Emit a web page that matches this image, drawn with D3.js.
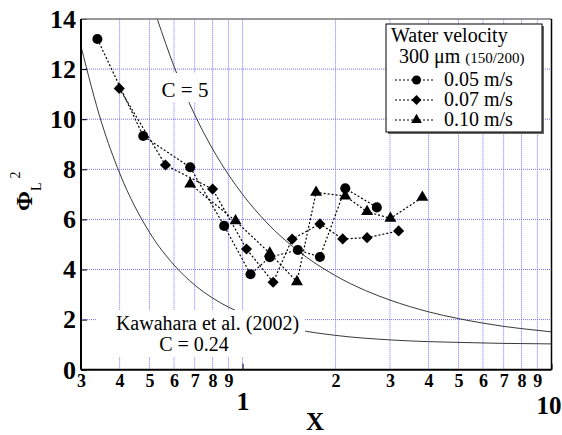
<!DOCTYPE html>
<html>
<head>
<meta charset="utf-8">
<script src="https://cdn.jsdelivr.net/npm/d3@7"></script>
<style>
  body { margin: 0; background: #fff; }
  svg, svg text { font-family: "Liberation Serif", "Tinos", "DejaVu Serif", serif; }
</style>
</head>
<body>
<svg id="chart" width="562" height="435"></svg>
<script>
// series
const xCircle = [0.339, 0.477, 0.677, 0.872, 1.061, 1.225, 1.51, 1.78, 2.15, 2.72]
const yCircle = [13.2, 9.33, 8.08, 5.74, 3.81, 4.49, 4.78, 4.5, 7.24, 6.48]
const xDiamond = [0.399, 0.563, 0.80, 1.03, 1.256, 1.447, 1.78, 2.11, 2.53, 3.2]
const yDiamond = [11.23, 8.17, 7.21, 4.82, 3.49, 5.21, 5.82, 5.22, 5.27, 5.54]
const xTriangle = [0.677, 0.949, 1.225, 1.50, 1.73, 2.15, 2.53, 3.01, 3.82]
const yTriangle = [7.41, 5.94, 4.65, 3.51, 7.08, 6.93, 6.31, 6.04, 6.88]

// reference curves (C = 5 and C = 0.24)
const xCurve5 = [0.53, 0.6, 0.7, 0.8, 0.9, 1, 1.2, 1.5, 2, 2.5, 3, 4, 5, 6, 7, 8, 10]
const yCurve5 = [13.99, 12.11, 10.18, 8.81, 7.79, 7, 5.86, 4.78, 3.75, 3.16, 2.78, 2.31, 2.04, 1.86, 1.73, 1.64, 1.51]
const xCurve024 = [0.3, 0.35, 0.4, 0.5, 0.6, 0.7, 0.8, 0.9, 1, 1.2, 1.5, 2, 3, 4, 5, 7, 10]
const yCurve024 = [12.91, 9.85, 7.85, 5.48, 4.18, 3.38, 2.86, 2.50, 2.24, 1.89, 1.60, 1.37, 1.19, 1.12, 1.09, 1.05, 1.03]

// ticks
const yTicks = [0, 2, 4, 6, 8, 10, 12, 14]
const xMinorTicks = [0.3, 0.4, 0.5, 0.6, 0.7, 0.8, 0.9, 2, 3, 4, 5, 6, 7, 8, 9]
const xMajorTicks = [1, 10]
const xGrid = [0.4, 0.5, 0.6, 0.7, 0.8, 0.9, 1, 2, 3, 4, 5, 6, 7, 8, 9]
const yGrid = [2, 4, 6, 8, 10, 12]

const legendLabels = ["0.05 m/s", "0.07 m/s", "0.10 m/s"]

const serif = "'Liberation Serif', Tinos, 'DejaVu Serif', serif"
const margin = { top: 19, bottom: 65.3, left: 81, right: 10.5 }
const svg = d3.select("#chart")
const width = 562, height = 435

const x = d3.scaleLog().domain([0.3, 10]).range([margin.left, width - margin.right])
const y = d3.scaleLinear().domain([0, 14]).range([height - margin.bottom, margin.top])

const gridColor = "#7272ff"

/**
 * Grid
 */
const g_grid = svg.append("g")
g_grid.selectAll(".vgrid").data(xGrid).enter().append("line")
  .attr("x1", d => x(d)).attr("x2", d => x(d))
  .attr("y1", y(0)).attr("y2", y(14))
  .attr("stroke", gridColor).attr("stroke-width", 1)
  .attr("stroke-dasharray", "1,1")
g_grid.selectAll(".hgrid").data(yGrid).enter().append("line")
  .attr("x1", x(0.3)).attr("x2", x(10))
  .attr("y1", d => y(d)).attr("y2", d => y(d))
  .attr("stroke", gridColor).attr("stroke-width", 1)
  .attr("stroke-dasharray", "1,1")

/**
 * Reference curves
 */
const curveLine = d3.line().x(d => x(d[0])).y(d => y(d[1])).curve(d3.curveMonotoneX)
svg.append("path")
  .attr("d", curveLine(d3.zip(xCurve5, yCurve5)))
  .attr("fill", "none").attr("stroke", "#222").attr("stroke-width", 0.9)
svg.append("path")
  .attr("d", curveLine(d3.zip(xCurve024, yCurve024)))
  .attr("fill", "none").attr("stroke", "#222").attr("stroke-width", 0.9)

// curve labels sit on white boxes
svg.append("rect").attr("x", 158).attr("y", 73).attr("width", 54).attr("height", 29).attr("fill", "#fff")
svg.append("text").attr("x", 185).attr("y", 96.5).attr("text-anchor", "middle")
  .attr("font-size", 21).text("C = 5")

svg.append("rect").attr("x", 97).attr("y", 310).attr("width", 208).attr("height", 47).attr("fill", "#fff")
svg.append("text").attr("x", 207.5).attr("y", 329.5).attr("text-anchor", "middle")
  .attr("font-size", 20).text("Kawahara et al. (2002)")
svg.append("text").attr("x", 194).attr("y", 351).attr("text-anchor", "middle")
  .attr("font-size", 20).text("C = 0.24")

/**
 * Series
 */
const series = [
  { xs: xCircle, ys: yCircle, symbol: d3.symbolCircle, size: 80, rot: 0 },
  { xs: xDiamond, ys: yDiamond, symbol: d3.symbolSquare, size: 62, rot: 45 },
  { xs: xTriangle, ys: yTriangle, symbol: d3.symbolTriangle, size: 62, rot: 0 },
]

const dataLine = d3.line().x(d => x(d[0])).y(d => y(d[1]))

series.forEach(s => {
  const pts = d3.zip(s.xs, s.ys)
  svg.append("path")
    .attr("d", dataLine(pts))
    .attr("fill", "none").attr("stroke", "#000").attr("stroke-width", 1.2)
    .attr("stroke-dasharray", "2,2")
  svg.selectAll(null).data(pts).enter().append("path")
    .attr("d", d3.symbol().type(s.symbol).size(s.size))
    .attr("transform", d => `translate(${x(d[0])},${y(d[1])}) rotate(${s.rot})`)
    .attr("fill", "#000")
})

/**
 * Axes
 */
const y_axis = d3.axisLeft(y).tickValues(yTicks).tickSize(-6).tickPadding(5).tickFormat(d3.format("d"))
const g_y = svg.append("g").attr("transform", `translate(${margin.left},0)`).call(y_axis)
g_y.attr("font-family", serif)
g_y.select(".domain").remove()
g_y.selectAll("text").attr("font-size", 26).attr("font-weight", "bold").attr("fill", "#000")
g_y.selectAll("line").attr("stroke", "#000")

const x_axis_minor = d3.axisBottom(x).tickValues(xMinorTicks).tickSize(0).tickPadding(5)
  .tickFormat(d => d < 1 ? String(Math.round(d * 10)) : String(d))
const g_xm = svg.append("g").attr("transform", `translate(0,${height - margin.bottom})`).call(x_axis_minor)
g_xm.attr("font-family", serif)
g_xm.select(".domain").remove()
g_xm.selectAll("text").attr("font-size", 18).attr("font-weight", "bold").attr("fill", "#000")

const x_axis_major = d3.axisBottom(x).tickValues(xMajorTicks).tickSize(-6).tickPadding(22)
  .tickFormat(d3.format("d"))
const g_xM = svg.append("g").attr("transform", `translate(0,${height - margin.bottom})`).call(x_axis_major)
g_xM.attr("font-family", serif)
g_xM.select(".domain").remove()
g_xM.selectAll("text").attr("font-size", 26).attr("font-weight", "bold").attr("fill", "#000")
// keep "10" inside the page and clear of the "9"
g_xM.selectAll("text").filter(d => d === 10)
  .attr("font-size", 25).attr("text-anchor", "end").attr("x", 561 - x(10)).attr("y", 27)
g_xM.selectAll("line").attr("stroke", "#000")

// frame
svg.append("line").attr("x1", x(0.3)).attr("x2", x(10)).attr("y1", y(14)).attr("y2", y(14))
  .attr("stroke", "#777").attr("stroke-width", 1.5)
svg.append("line").attr("x1", x(10)).attr("x2", x(10)).attr("y1", y(14)).attr("y2", y(0))
  .attr("stroke", "#000").attr("stroke-width", 1.5)
svg.append("line").attr("x1", x(0.3)).attr("x2", x(10)).attr("y1", y(0)).attr("y2", y(0))
  .attr("stroke", "#000").attr("stroke-width", 2)
svg.append("line").attr("x1", x(0.3)).attr("x2", x(0.3)).attr("y1", y(14)).attr("y2", y(0))
  .attr("stroke", "#000").attr("stroke-width", 2)

/**
 * Axis labels
 */
svg.append("text").attr("x", 315).attr("y", 430).attr("text-anchor", "middle")
  .attr("font-size", 25).attr("font-weight", "bold").text("X")

const y_label = svg.append("text")
  .attr("transform", "translate(32,211) rotate(-90)")
  .attr("text-anchor", "start")
y_label.append("tspan").attr("font-size", 24).attr("font-weight", "bold").text("Φ")
y_label.append("tspan").attr("font-size", 14).attr("dy", 9).text("L")
y_label.append("tspan").attr("font-size", 14).attr("dx", 4).attr("dy", -21).text("2")

/**
 * Legend
 */
const lg = svg.append("g")
lg.append("rect").attr("x", 388).attr("y", 26).attr("width", 156).attr("height", 108).attr("fill", "#666")
lg.append("rect").attr("x", 386).attr("y", 24).attr("width", 156).attr("height", 108)
  .attr("fill", "#fff").attr("stroke", "#000").attr("stroke-width", 1)
lg.append("text").attr("x", 391).attr("y", 42).attr("font-size", 20).text("Water velocity")
const t2 = lg.append("text").attr("x", 399).attr("y", 63)
t2.append("tspan").attr("font-size", 20).text("300 μm ")
t2.append("tspan").attr("font-size", 15).text("(150/200)")

legendLabels.forEach((label, i) => {
  const cy = 80 + i * 20
  const s = series[i]
  lg.append("line").attr("x1", 395).attr("x2", 435).attr("y1", cy).attr("y2", cy)
    .attr("stroke", "#000").attr("stroke-width", 1).attr("stroke-dasharray", "2,2")
  lg.append("path").attr("d", d3.symbol().type(s.symbol).size(s.size * 0.8))
    .attr("transform", `translate(416.5,${cy}) rotate(${s.rot})`).attr("fill", "#000")
  lg.append("text").attr("x", 444).attr("y", cy + 5.5).attr("font-size", 20).text(label)
})
</script>
</body>
</html>
